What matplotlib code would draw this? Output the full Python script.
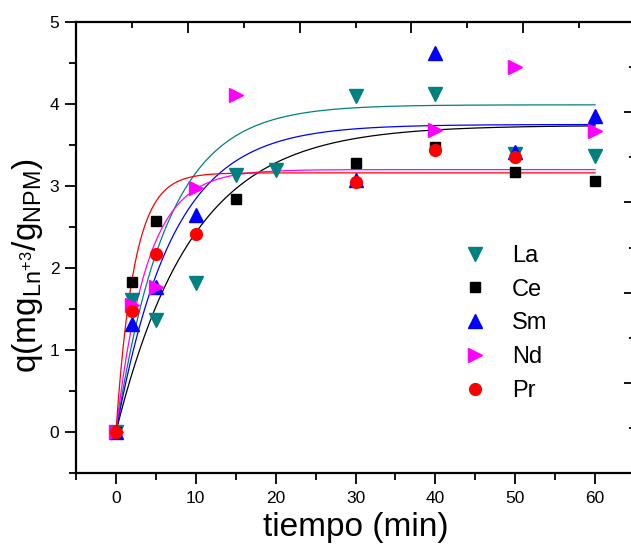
import numpy as np
import matplotlib
matplotlib.use("Agg")
import matplotlib.pyplot as plt
from matplotlib.ticker import MultipleLocator, FixedLocator, NullFormatter

plt.rcParams['font.family'] = ['Liberation Sans', 'DejaVu Sans']

# kinetic data: adsorbed amount q (mg Ln / g NPM) vs time (min)
t_la = [0, 2, 5, 10, 15, 20, 30, 40, 50, 60]
q_la = [0, 1.61, 1.37, 1.82, 3.13, 3.19, 4.10, 4.12, 3.39, 3.37]

t_ce = [0, 2, 5, 15, 30, 40, 50, 60]
q_ce = [0, 1.83, 2.57, 2.84, 3.28, 3.48, 3.17, 3.06]

t_sm = [0, 2, 5, 10, 30, 40, 50, 60]
q_sm = [0, 1.32, 1.77, 2.65, 3.07, 4.62, 3.41, 3.85]

t_nd = [0, 2, 5, 10, 15, 40, 50, 60]
q_nd = [0, 1.55, 1.77, 2.97, 4.11, 3.68, 4.45, 3.67]

t_pr = [0, 2, 5, 10, 30, 40, 50]
q_pr = [0, 1.48, 2.17, 2.41, 3.05, 3.44, 3.35]

labels = ['La', 'Ce', 'Sm', 'Nd', 'Pr']
colors = ['#008080', 'black', 'blue', '#ff00ff', 'red']
markers = ['v', 's', '^', '>', 'o']
sizes = [9.5, 7.5, 9.5, 9.5, 8.5]

# pseudo-first-order fit parameters: q = qe * (1 - exp(-k t))
qe_fit = [3.99, 3.74, 3.75, 3.20, 3.16]
k_fit = [0.157, 0.105, 0.142, 0.26, 0.44]

series = [(t_la, q_la), (t_ce, q_ce), (t_sm, q_sm), (t_nd, q_nd), (t_pr, q_pr)]

fig = plt.figure(figsize=(6.31, 5.52), dpi=100)
ax = fig.add_axes([76 / 631, 79 / 552, 559 / 631, 451 / 552])

tt = np.linspace(0, 60, 400)
for qe, k, c in zip(qe_fit, k_fit, colors):
    ax.plot(tt, qe * (1 - np.exp(-k * tt)), color=c, lw=0.9, zorder=2)

for (t, q), lab, c, m, s in zip(series, labels, colors, markers, sizes):
    ax.plot(t, q, ls='none', marker=m, ms=s, color=c, mec=c, label=lab, zorder=3)

ax.set_xlim(-5, 65)
ax.set_ylim(-0.5, 5)

ax.xaxis.set_major_locator(MultipleLocator(10))
ax.xaxis.set_minor_locator(MultipleLocator(5))
ax.yaxis.set_major_locator(MultipleLocator(1))
ax.yaxis.set_minor_locator(MultipleLocator(0.5))
ax.tick_params(which='both', direction='out', top=False, right=False,
               width=1.3, labelsize=12.5)
ax.tick_params(which='major', length=8)
ax.tick_params(which='minor', length=5)
ax.tick_params(axis='x', pad=5)
ax.tick_params(axis='y', pad=4)
for sp in ax.spines.values():
    sp.set_linewidth(1.6)

# unlabeled top and right scales with inward ticks
axt = ax.twiny()
axt.set_xlim(-5, 65)
axt.xaxis.set_major_locator(FixedLocator(np.linspace(-5, 65, 6)))
axt.xaxis.set_minor_locator(FixedLocator(np.linspace(2, 58, 5)))
axt.xaxis.set_major_formatter(NullFormatter())
axt.tick_params(which='both', direction='in', width=1.3)
axt.tick_params(which='major', length=8)
axt.tick_params(which='minor', length=4)

axr = ax.twinx()
axr.set_ylim(-0.5, 5)
axr.yaxis.set_major_locator(FixedLocator(np.linspace(-0.5, 5, 6)))
axr.yaxis.set_minor_locator(FixedLocator(np.linspace(0.05, 4.45, 5)))
axr.yaxis.set_major_formatter(NullFormatter())
axr.tick_params(which='both', direction='in', width=1.3)
axr.tick_params(which='major', length=8)
axr.tick_params(which='minor', length=4)
for a in (axt, axr):
    for sp in a.spines.values():
        sp.set_visible(False)

ax.set_xlabel('tiempo (min)', fontsize=24, labelpad=4)
ax.set_ylabel(r'q(mg$_{\mathregular{Ln^{+3}}}$/g$_{\mathregular{NPM}}$)', fontsize=24)
ax.yaxis.set_label_coords(-0.055, 0.46)

ax.legend(loc='upper left', bbox_to_anchor=(0.676, 0.527), frameon=False,
          fontsize=17, handlelength=1.0, handletextpad=1.05, labelspacing=0.5,
          borderaxespad=0)

fig.savefig('out.png', dpi=100)
